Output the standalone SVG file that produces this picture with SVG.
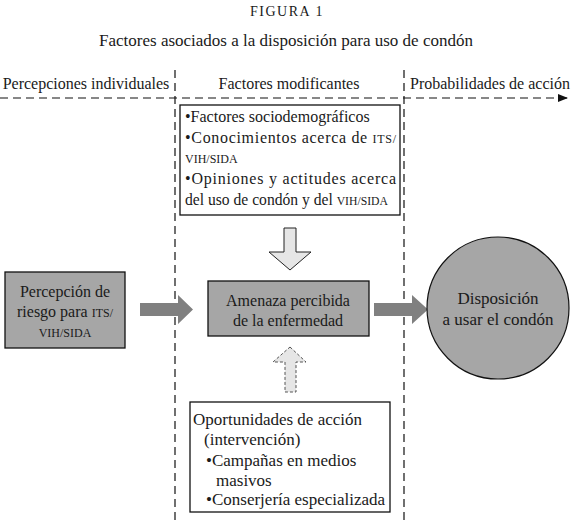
<svg xmlns="http://www.w3.org/2000/svg" width="575" height="525" viewBox="0 0 575 525">
<style>
text{font-family:"Liberation Serif","DejaVu Serif",serif;fill:#1a1a1a;font-size:16px}
.sc{font-size:12px}
.big{font-size:17px}
.fig{font-size:14px;letter-spacing:1.5px}
.title{font-size:17px}
.dash{stroke:#111;stroke-width:1.2;stroke-dasharray:8,5;fill:none}
.box{fill:#fff;stroke:#111;stroke-width:1.3}
.gbox{fill:#a6a6a6;stroke:#111;stroke-width:1.3}
</style>
<defs>
<marker id="ah" markerWidth="10" markerHeight="8" refX="9" refY="4" orient="auto" markerUnits="userSpaceOnUse">
<path d="M0,0 L10,4 L0,8 z" fill="#111"/>
</marker>
</defs>
<rect width="575" height="525" fill="#fff"/>
<text x="287" y="16" text-anchor="middle" class="fig">FIGURA 1</text>
<text x="286" y="46" text-anchor="middle" class="title">Factores asociados a la disposición para uso de condón</text>
<g id="lanes">
<line class="dash" x1="175" y1="70" x2="175" y2="525"/>
<line class="dash" x1="404" y1="70" x2="404" y2="525"/>
<line class="dash" x1="0" y1="98" x2="567" y2="98" marker-end="url(#ah)"/>
<text x="86" y="89" text-anchor="middle">Percepciones individuales</text>
<text x="289" y="89" text-anchor="middle">Factores modificantes</text>
<text x="490" y="89" text-anchor="middle">Probabilidades de acción</text>
</g>
<g id="connectors">
<path d="M140,303 H178 V295 L193,309.5 L178,324 V316 H140 z" fill="#808080"/>
<path d="M374,303 H412 V295 L428,309.5 L412,324 V316 H374 z" fill="#808080"/>
<path d="M284,228 H296 V252 H311 L290,270 L269,252 H284 z" fill="#e6e6e6" stroke="#222" stroke-width="1"/>
<path d="M290,347 L306,362 H296 V392 H285 V362 H273 z" fill="#e6e6e6" stroke="#555" stroke-width="1" stroke-dasharray="3,2"/>
</g>
<g id="factores">
<rect class="box" x="180" y="105" width="220" height="110"/>
<text x="185" y="122">•Factores sociodemográficos</text>
<text x="185" y="143" textLength="211" lengthAdjust="spacing">•Conocimientos acerca de <tspan class="sc">ITS/</tspan></text>
<text x="185" y="163" class="sc">VIH/SIDA</text>
<text x="185" y="184" textLength="211" lengthAdjust="spacing">•Opiniones y actitudes acerca</text>
<text x="185" y="205" textLength="203" lengthAdjust="spacingAndGlyphs">del uso de condón y del <tspan class="sc">VIH/SIDA</tspan></text>
</g>
<g id="percepcion">
<rect class="gbox" x="5" y="272" width="120" height="76"/>
<text x="65" y="297" text-anchor="middle">Percepción de</text>
<text x="65" y="317" text-anchor="middle">riesgo para <tspan class="sc">ITS/</tspan></text>
<text x="65" y="337" text-anchor="middle" class="sc">VIH/SIDA</text>
</g>
<g id="amenaza">
<rect class="gbox" x="208" y="281" width="161" height="55"/>
<text x="288" y="306" text-anchor="middle">Amenaza percibida</text>
<text x="288" y="326" text-anchor="middle">de la enfermedad</text>
</g>
<g id="disposicion">
<circle cx="498" cy="308" r="71" fill="#a6a6a6" stroke="#111" stroke-width="1.2"/>
<text x="498" y="304" text-anchor="middle" class="big">Disposición</text>
<text x="498" y="325" text-anchor="middle" class="big">a usar el condón</text>
</g>
<g id="oportunidades">
<rect class="box" x="190" y="402" width="200" height="110"/>
<text x="193" y="425" class="big">Oportunidades de acción</text>
<text x="204" y="445" class="big">(intervención)</text>
<text x="206" y="466" class="big">•Campañas en medios</text>
<text x="216" y="486" class="big">masivos</text>
<text x="206" y="505" class="big">•Conserjería especializada</text>
</g>
</svg>
